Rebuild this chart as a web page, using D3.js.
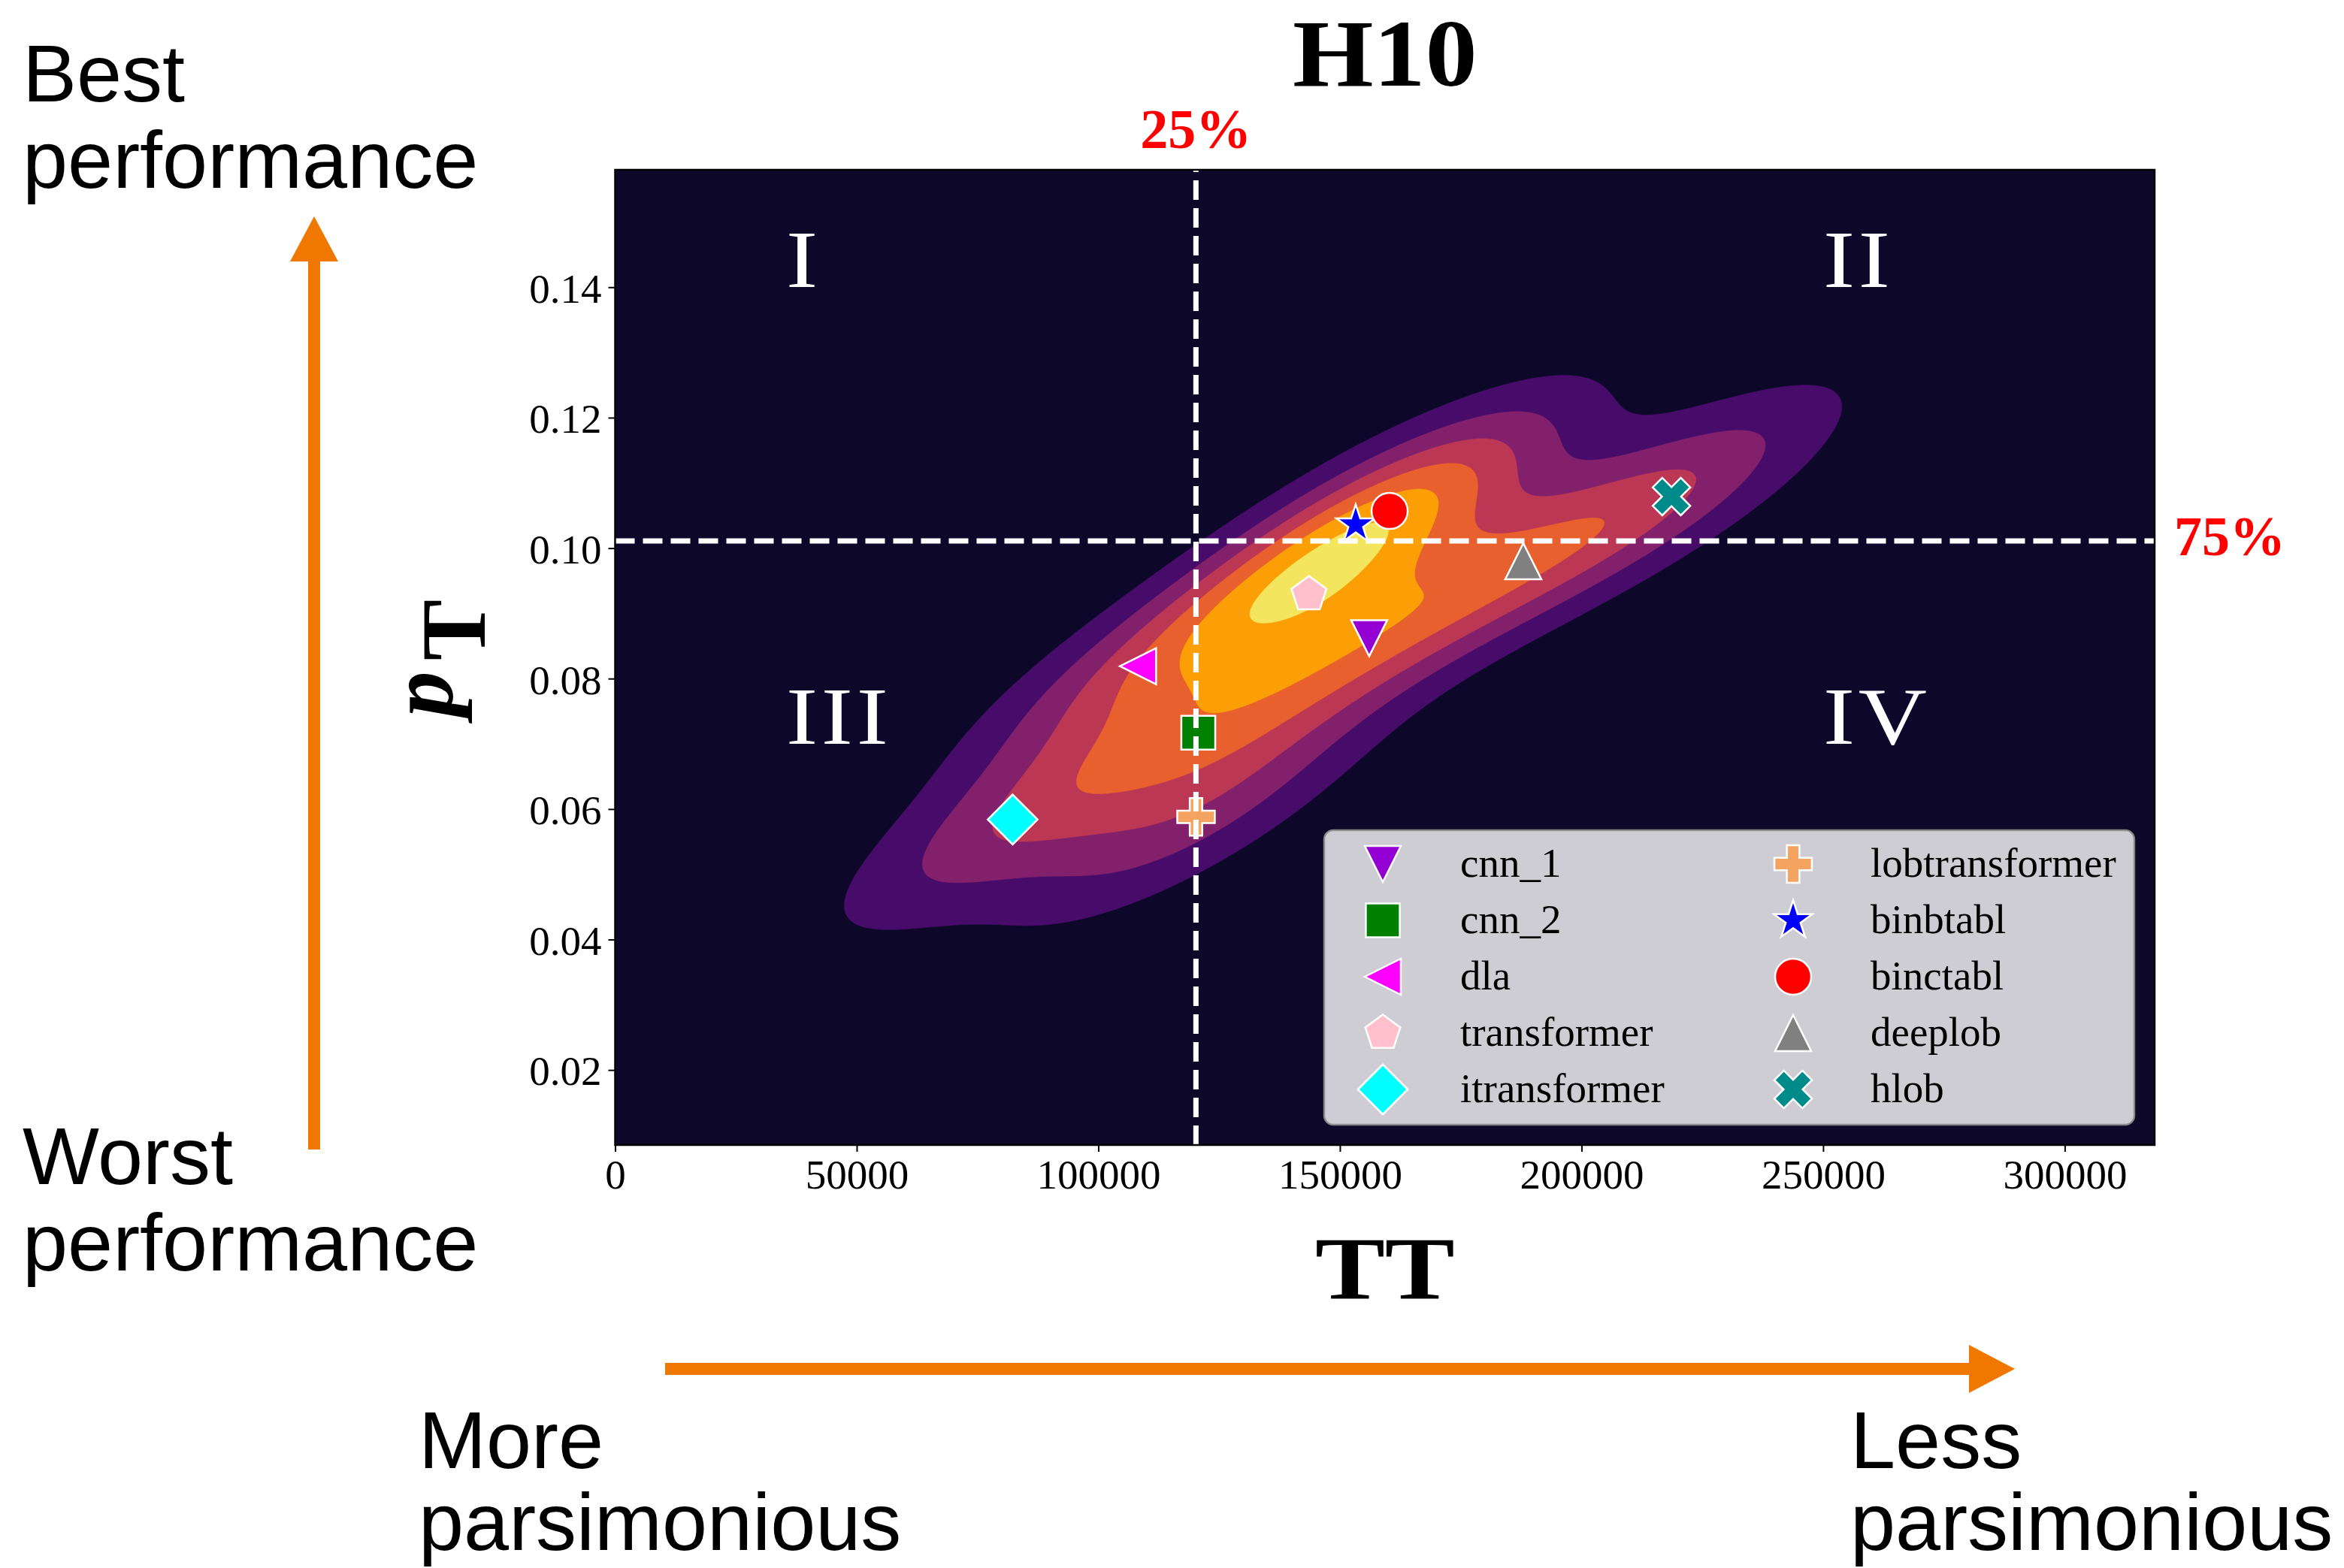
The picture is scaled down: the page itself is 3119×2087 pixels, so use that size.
<!DOCTYPE html>
<html>
<head>
<meta charset="utf-8">
<script src="https://cdn.jsdelivr.net/npm/d3@7"></script>
<style>
  html, body { margin: 0; padding: 0; background: #ffffff; }
  svg { display: block; }
</style>
</head>
<body>
<svg id="chart" width="3119" height="2087"></svg>
<script>
// ---- data -------------------------------------------------------------
const models = ["cnn_1", "cnn_2", "dla", "transformer", "itransformer",
                "lobtransformer", "binbtabl", "binctabl", "deeplob", "hlob"];
const ttValues = [156050, 120684, 108212, 143590, 82270,
                  120218, 153265, 160280, 187947, 218616];
const pdValues = [0.0862, 0.0717, 0.0819, 0.0929, 0.0584,
                  0.0588, 0.1036, 0.1057, 0.0980, 0.1079];
const markerShapes = ["triangleDown", "square", "triangleLeft", "pentagon", "diamond",
                      "plus", "star", "circle", "triangleUp", "cross"];
const markerColors = ["#9400d3", "#008000", "#ff00ff", "#ffc0cb", "#00ffff",
                      "#f4a460", "#0000ff", "#ff0000", "#808080", "#008b8b"];

const xTicks = [0, 50000, 100000, 150000, 200000, 250000, 300000];
const yTicks = [0.02, 0.04, 0.06, 0.08, 0.10, 0.12, 0.14];
const xDomain = [0, 318600];
const yDomain = [0.0085, 0.158];

// quartile guides: TT at 25%, pT at 75%
const quantileLabels = ["25%", "75%"];
const quantileValues = [120200, 0.1011];

const quadrantLabels = ["I", "II", "III", "IV"];
const quadrantX = [35400, 250000, 35400, 250000];
const quadrantY = [0.14, 0.14, 0.07, 0.07];

// density shading: 7 evenly spaced bands, the top one only partly filled
const densityBands = 7;
const peakInSteps = 6.5;
const bandwidthAdjust = 1.0;

// ---- layout -----------------------------------------------------------
const W = 3119, H = 2087;
const plotLeft = 818.5, plotRight = 2867, plotTop = 226, plotBottom = 1524;
const serif = "'Liberation Serif', 'Times New Roman', serif";
const sans = "'Liberation Sans', Arial, Helvetica, sans-serif";
const orange = "#f07800";

const x = d3.scaleLinear().domain(xDomain).range([plotLeft, plotRight]);
const y = d3.scaleLinear().domain(yDomain).range([plotBottom, plotTop]);

const svg = d3.select("#chart");
svg.append("rect").attr("width", W).attr("height", H).attr("fill", "#ffffff");

svg.append("defs").append("clipPath").attr("id", "plotClip")
  .append("rect")
  .attr("x", plotLeft).attr("y", plotTop)
  .attr("width", plotRight - plotLeft).attr("height", plotBottom - plotTop);

const plot = svg.append("g").attr("clip-path", "url(#plotClip)");

// ---- gaussian kernel density of the models (Scott bandwidth) ----------
const n = ttValues.length;
const mx = d3.mean(ttValues), my = d3.mean(pdValues);
let sxx = 0, syy = 0, sxy = 0;
for (let i = 0; i < n; i++) {
  const dx = ttValues[i] - mx, dy = pdValues[i] - my;
  sxx += dx * dx; syy += dy * dy; sxy += dx * dy;
}
sxx /= (n - 1); syy /= (n - 1); sxy /= (n - 1);
const factor = Math.pow(n, -1 / 6) * bandwidthAdjust;
const f2 = factor * factor;
const cxx = sxx * f2, cyy = syy * f2, cxy = sxy * f2;
const det = cxx * cyy - cxy * cxy;
const ixx = cyy / det, iyy = cxx / det, ixy = -cxy / det;

const step = 3;
const nx = Math.ceil((plotRight - plotLeft) / step);
const ny = Math.ceil((plotBottom - plotTop) / step);
const grid = new Float64Array(nx * ny);
for (let j = 0; j < ny; j++) {
  const yv = y.invert(plotTop + (j + 0.5) * step);
  for (let i = 0; i < nx; i++) {
    const xv = x.invert(plotLeft + (i + 0.5) * step);
    let s = 0;
    for (let k = 0; k < n; k++) {
      const dx = xv - ttValues[k], dy = yv - pdValues[k];
      s += Math.exp(-0.5 * (ixx * dx * dx + 2 * ixy * dx * dy + iyy * dy * dy));
    }
    grid[j * nx + i] = s;
  }
}

const zmax = d3.max(grid);
const levelStep = zmax / peakInSteps;
const levels = d3.range(1, densityBands).map(k => k * levelStep);
const bandColor = k => d3.interpolateInferno((k + 0.5) / densityBands);

const contours = d3.contours().size([nx, ny]).thresholds(levels)(grid);
const gridPath = d3.geoPath(d3.geoTransform({
  point(px, py) { this.stream.point(plotLeft + px * step, plotTop + py * step); }
}));

plot.append("rect")
  .attr("x", plotLeft).attr("y", plotTop)
  .attr("width", plotRight - plotLeft).attr("height", plotBottom - plotTop)
  .attr("fill", bandColor(0));

plot.append("g").selectAll("path")
  .data(contours)
  .join("path")
  .attr("d", gridPath)
  .attr("fill", (d, i) => bandColor(i + 1))
  .attr("stroke", (d, i) => bandColor(i + 1))
  .attr("stroke-width", 0.6);

// ---- marker shapes ----------------------------------------------------
const symbolTypes = {
  triangleDown: { draw(c, s) { const r = Math.sqrt(s); c.moveTo(0, r); c.lineTo(-r, -r); c.lineTo(r, -r); c.closePath(); } },
  triangleUp:   { draw(c, s) { const r = Math.sqrt(s); c.moveTo(0, -r); c.lineTo(-r, r); c.lineTo(r, r); c.closePath(); } },
  triangleLeft: { draw(c, s) { const r = Math.sqrt(s); c.moveTo(-r, 0); c.lineTo(r, -r); c.lineTo(r, r); c.closePath(); } },
  square:       { draw(c, s) { const r = Math.sqrt(s) * 0.94; c.rect(-r, -r, 2 * r, 2 * r); } },
  circle:       { draw(c, s) { const r = Math.sqrt(s); c.moveTo(r, 0); c.arc(0, 0, r, 0, 2 * Math.PI); } },
  diamond:      { draw(c, s) { const r = Math.sqrt(s) * 1.38; c.moveTo(0, -r); c.lineTo(r, 0); c.lineTo(0, r); c.lineTo(-r, 0); c.closePath(); } },
  pentagon:     { draw(c, s) {
    const r = Math.sqrt(s) * 1.02;
    for (let k = 0; k < 5; k++) {
      const a = -Math.PI / 2 + k * 2 * Math.PI / 5;
      k ? c.lineTo(r * Math.cos(a), r * Math.sin(a)) : c.moveTo(r * Math.cos(a), r * Math.sin(a));
    }
    c.closePath(); } },
  star:         { draw(c, s) {
    const R = Math.sqrt(s) * 1.12, ri = R * 0.382;
    for (let k = 0; k < 10; k++) {
      const a = -Math.PI / 2 + k * Math.PI / 5, rr = k % 2 ? ri : R;
      k ? c.lineTo(rr * Math.cos(a), rr * Math.sin(a)) : c.moveTo(rr * Math.cos(a), rr * Math.sin(a));
    }
    c.closePath(); } },
  plus:         { draw(c, s) {
    const a = Math.sqrt(s) * 1.04, w = a / 3;
    const pts = [[-w,-a],[w,-a],[w,-w],[a,-w],[a,w],[w,w],[w,a],[-w,a],[-w,w],[-a,w],[-a,-w],[-w,-w]];
    pts.forEach((p, i) => i ? c.lineTo(p[0], p[1]) : c.moveTo(p[0], p[1]));
    c.closePath(); } },
  cross:        { draw(c, s) {
    const a = Math.sqrt(s) * 1.1, w = a * 0.34;
    const pts = [[-w,-a],[w,-a],[w,-w],[a,-w],[a,w],[w,w],[w,a],[-w,a],[-w,w],[-a,w],[-a,-w],[-w,-w]];
    const r = Math.SQRT1_2;
    pts.forEach((p, i) => {
      const px = (p[0] - p[1]) * r, py = (p[0] + p[1]) * r;
      i ? c.lineTo(px, py) : c.moveTo(px, py);
    });
    c.closePath(); } }
};
const markerSize = 24 * 24;
const markerPath = shape => d3.symbol(symbolTypes[shape], markerSize)();

plot.append("g").selectAll("path")
  .data(models)
  .join("path")
  .attr("transform", (d, i) => `translate(${x(ttValues[i])},${y(pdValues[i])})`)
  .attr("d", (d, i) => markerPath(markerShapes[i]))
  .attr("fill", (d, i) => markerColors[i])
  .attr("stroke", "#ffffff")
  .attr("stroke-width", 2.5)
  .attr("stroke-linejoin", "miter");

// ---- quartile guides --------------------------------------------------
plot.append("line")
  .attr("x1", x(quantileValues[0])).attr("x2", x(quantileValues[0]))
  .attr("y1", plotBottom).attr("y2", plotTop)
  .attr("stroke", "#ffffff").attr("stroke-width", 7).attr("stroke-dasharray", "26,11");
plot.append("line")
  .attr("x1", plotLeft).attr("x2", plotRight)
  .attr("y1", y(quantileValues[1])).attr("y2", y(quantileValues[1]))
  .attr("stroke", "#ffffff").attr("stroke-width", 7).attr("stroke-dasharray", "26,11");

// ---- quadrant numerals -------------------------------------------------
plot.append("g").selectAll("text")
  .data(quadrantLabels)
  .join("text")
  .attr("transform", (d, i) => `translate(${x(quadrantX[i])},${y(quadrantY[i])}) scale(1.18,1)`)
  .attr("fill", "#ffffff")
  .attr("font-family", serif)
  .attr("font-size", 107)
  .attr("letter-spacing", 4)
  .text(d => d);

// ---- frame and axes ---------------------------------------------------
svg.append("rect")
  .attr("x", plotLeft).attr("y", plotTop)
  .attr("width", plotRight - plotLeft).attr("height", plotBottom - plotTop)
  .attr("fill", "none").attr("stroke", "#000000").attr("stroke-width", 2.5);

const xAxis = svg.append("g").attr("transform", `translate(0,${plotBottom})`)
  .call(d3.axisBottom(x).tickValues(xTicks).tickFormat(d3.format("d")).tickSize(9).tickPadding(10));
const yAxis = svg.append("g").attr("transform", `translate(${plotLeft},0)`)
  .call(d3.axisLeft(y).tickValues(yTicks).tickFormat(d3.format(".2f")).tickSize(9).tickPadding(9));
[xAxis, yAxis].forEach(a => {
  a.select(".domain").remove();
  a.selectAll(".tick line").attr("stroke", "#000000").attr("stroke-width", 2);
  a.selectAll(".tick text").attr("font-family", serif).attr("font-size", 55).attr("fill", "#000000");
});
yAxis.selectAll(".tick text").attr("dy", "0.36em");

// ---- titles and axis labels ------------------------------------------
svg.append("text")
  .attr("transform", `translate(${(plotLeft + plotRight) / 2},114) scale(1.08,1)`)
  .attr("text-anchor", "middle")
  .attr("font-family", serif).attr("font-weight", "bold").attr("font-size", 128)
  .text("H10");

svg.append("text")
  .attr("transform", `translate(${(plotLeft + plotRight) / 2},1729) scale(1.18,1)`)
  .attr("text-anchor", "middle")
  .attr("font-family", serif).attr("font-weight", "bold").attr("font-size", 118)
  .text("TT");

const yLabel = svg.append("text")
  .attr("transform", "translate(645,876) rotate(-90)")
  .attr("text-anchor", "middle")
  .attr("font-family", serif).attr("font-weight", "bold").attr("font-size", 122);
yLabel.append("tspan").attr("font-style", "italic").attr("dy", -43).text("p");
yLabel.append("tspan").attr("dx", 14).attr("dy", 43).text("T");

// quartile labels
svg.append("text")
  .attr("x", x(quantileValues[0])).attr("y", 197)
  .attr("text-anchor", "middle")
  .attr("font-family", serif).attr("font-weight", "bold").attr("font-size", 74)
  .attr("fill", "#ff0000")
  .text(quantileLabels[0]);
svg.append("text")
  .attr("x", plotRight + 26).attr("y", y(quantileValues[1]) + 19)
  .attr("font-family", serif).attr("font-weight", "bold").attr("font-size", 74)
  .attr("fill", "#ff0000")
  .text(quantileLabels[1]);

// ---- legend -----------------------------------------------------------
const legendX = 1762, legendY = 1105, legendW = 1078, legendH = 392;
const legendColX = [1840, 2386], legendRowY0 = 1150, legendRowStep = 75, legendTextGap = 103;
const legend = svg.append("g");
legend.append("rect")
  .attr("x", legendX).attr("y", legendY).attr("width", legendW).attr("height", legendH)
  .attr("rx", 12).attr("ry", 12)
  .attr("fill", "#ffffff").attr("fill-opacity", 0.8)
  .attr("stroke", "#8c8c8c").attr("stroke-opacity", 0.9).attr("stroke-width", 2.5);
const entries = legend.selectAll("g.entry")
  .data(models)
  .join("g")
  .attr("class", "entry")
  .attr("transform", (d, i) => `translate(${legendColX[Math.floor(i / 5)]},${legendRowY0 + (i % 5) * legendRowStep})`);
entries.append("path")
  .attr("d", (d, i) => markerPath(markerShapes[i]))
  .attr("fill", (d, i) => markerColors[i])
  .attr("stroke", "#ffffff").attr("stroke-width", 2.5);
entries.append("text")
  .attr("x", legendTextGap).attr("y", 17)
  .attr("font-family", serif).attr("font-size", 55).attr("fill", "#000000")
  .text(d => d);

// ---- direction annotations -------------------------------------------
const note = (lines, x0, y0, lead) => {
  const t = svg.append("text").attr("font-family", sans).attr("font-size", 108).attr("fill", "#000000");
  lines.forEach((s, i) => t.append("tspan").attr("x", x0).attr("y", y0 + i * lead).text(s));
};
note(["Best", "performance"], 30, 135, 115);
note(["Worst", "performance"], 30, 1576, 115);
note(["More", "parsimonious"], 557, 1954, 109);
note(["Less", "parsimonious"], 2462, 1954, 109);

// vertical arrow: worse -> better
const arrowV = d3.path();
arrowV.moveTo(410, 1530); arrowV.lineTo(410, 348); arrowV.lineTo(386, 348);
arrowV.lineTo(418, 288); arrowV.lineTo(450, 348); arrowV.lineTo(426, 348);
arrowV.lineTo(426, 1530); arrowV.closePath();
svg.append("path").attr("d", arrowV.toString()).attr("fill", orange);

// horizontal arrow: more -> less parsimonious
const arrowH = d3.path();
arrowH.moveTo(885, 1814); arrowH.lineTo(2620, 1814); arrowH.lineTo(2620, 1790);
arrowH.lineTo(2681, 1822); arrowH.lineTo(2620, 1854); arrowH.lineTo(2620, 1830);
arrowH.lineTo(885, 1830); arrowH.closePath();
svg.append("path").attr("d", arrowH.toString()).attr("fill", orange);
</script>
</body>
</html>
